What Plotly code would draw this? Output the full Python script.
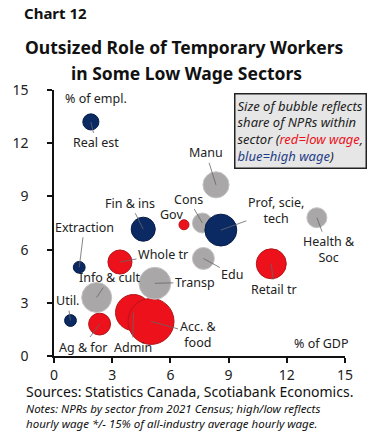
import plotly.graph_objects as go

# ---- data ----
sectors = ["Real est", "Extraction", "Util.", "Ag & for", "Info & cult", "Whole tr",
           "Admin", "Acc. &<br>food", "Transp", "Fin & ins", "Gov", "Cons",
           "Prof, scie,<br>tech", "Manu", "Edu", "Health &<br>Soc", "Retail tr"]
gdp_share = [1.9, 1.3, 0.85, 2.35, 2.2, 3.4, 4.1, 5.0, 5.2, 4.6, 6.7, 7.65, 8.6, 8.35, 7.7, 13.55, 11.2]
empl_share = [13.2, 5.0, 2.0, 1.8, 3.3, 5.3, 2.45, 1.95, 4.1, 7.15, 7.4, 7.5, 7.1, 9.65, 5.5, 7.8, 5.2]
npr_share = [1.3, 0.7, 0.7, 2.4, 4.5, 2.9, 6.5, 10.6, 5.1, 2.9, 0.5, 2.0, 5.1, 3.4, 2.4, 2.0, 4.5]
wage_group = ["high", "high", "high", "low", "mid", "low", "low", "low", "mid", "high", "low",
              "mid", "high", "mid", "mid", "mid", "low"]
tick_vals = [0, 3, 6, 9, 12, 15]

# label offsets (pixels) from bubble centre
label_dx = [5, 5, -3, -17, 13, 43, -1, 47, 40, -13, -12, -14, 55, -10, 29, 12, 3]
label_dy = [21, -40, -20, 23, -20, -8, 35, 13, -1, -26, -10, -24, -20, -32, 16, 32, 26]

fill = {"high": "#0b2a63", "low": "#ec111a", "mid": "#a9a7a7"}
edge = {"high": "#061c47", "low": "#b5141b", "mid": "#c4c2c2"}

FONT = "Noto Sans"
fig = go.Figure()
max_d = 46
fig.add_trace(go.Scatter(
    x=gdp_share, y=empl_share, mode="markers",
    marker=dict(size=npr_share, sizemode="area", sizeref=2 * max(npr_share) / max_d ** 2,
                color=[fill[g] for g in wage_group], opacity=1,
                line=dict(color=[edge[g] for g in wage_group], width=1)),
    cliponaxis=False, hoverinfo="skip", showlegend=False))

anns = []
for s, x, y, dx, dy in zip(sectors, gdp_share, empl_share, label_dx, label_dy):
    anns.append(dict(x=x, y=y, xref="x", yref="y", text=s, showarrow=True,
                     arrowhead=0, arrowwidth=0.8, arrowcolor="#666666", standoff=0,
                     ax=dx, ay=dy, font=dict(family=FONT, size=12.5, color="#222"),
                     align="center"))

anns += [
    dict(x=2.19, y=14.5, xref="x", yref="y", text="% of empl.", showarrow=False,
         font=dict(family=FONT, size=12.5, color="#222")),
    dict(x=13.8, y=0.68, xref="x", yref="y", text="% of GDP", showarrow=False,
         font=dict(family=FONT, size=12.5, color="#222")),
    dict(x=12.7, y=12.7, xref="x", yref="y", showarrow=False, align="left",
         text=("<i>Size of bubble reflects<br>share of NPRs within<br>sector (" +
               "<span style='color:#ec111a'>red=low wage</span>,<br>" +
               "<span style='color:#1f3c88'>blue=high wage</span>)</i>"),
         font=dict(family=FONT, size=13, color="#222"),
         bgcolor="#e6e6e6", bordercolor="#222", borderwidth=1.5, borderpad=2),
    dict(x=-0.109, y=1.289, xref="paper", yref="paper", xanchor="left", yanchor="middle",
         text="<b>Chart 12</b>", showarrow=False,
         font=dict(family=FONT, size=15, color="#111")),
    dict(x=0.447, y=1.16, xref="paper", yref="paper", xanchor="center", yanchor="middle",
         text="<b>Outsized Role of Temporary Workers</b>",
         showarrow=False, font=dict(family=FONT, size=17.5, color="#111")),
    dict(x=0.457, y=1.065, xref="paper", yref="paper", xanchor="center", yanchor="middle",
         text="<b>in Some Low Wage Sectors</b>",
         showarrow=False, font=dict(family=FONT, size=17.5, color="#111")),
    dict(x=-0.103, y=-0.135, xref="paper", yref="paper", xanchor="left", yanchor="middle",
         text="Sources: Statistics Canada, Scotiabank Economics.", showarrow=False,
         font=dict(family=FONT, size=14, color="#111")),
    dict(x=-0.103, y=-0.227, xref="paper", yref="paper", xanchor="left", yanchor="middle",
         align="left",
         text="<i>Notes: NPRs by sector from 2021 Census; high/low reflects<br>"
              "hourly wage */- 15% of all-industry average hourly wage.</i>",
         showarrow=False, font=dict(family=FONT, size=11.5, color="#111")),
]

axis_common = dict(range=[0, 15], tickvals=tick_vals, showgrid=False, zeroline=False,
                   showline=True, linecolor="#111", linewidth=1.5, ticks="outside",
                   ticklen=5, tickwidth=1.5, tickcolor="#111",
                   tickfont=dict(family=FONT, size=14, color="#222"))
fig.update_layout(
    width=384, height=442, margin=dict(l=43, r=39, t=90, b=86),
    paper_bgcolor="white", plot_bgcolor="white",
    xaxis=dict(axis_common, ticklabelstandoff=0),
    yaxis=dict(axis_common, ticklabelstandoff=16),
    annotations=anns, showlegend=False)

fig.write_html("out.html", config={"displayModeBar": False},
               post_script="document.body.style.margin='0';")
